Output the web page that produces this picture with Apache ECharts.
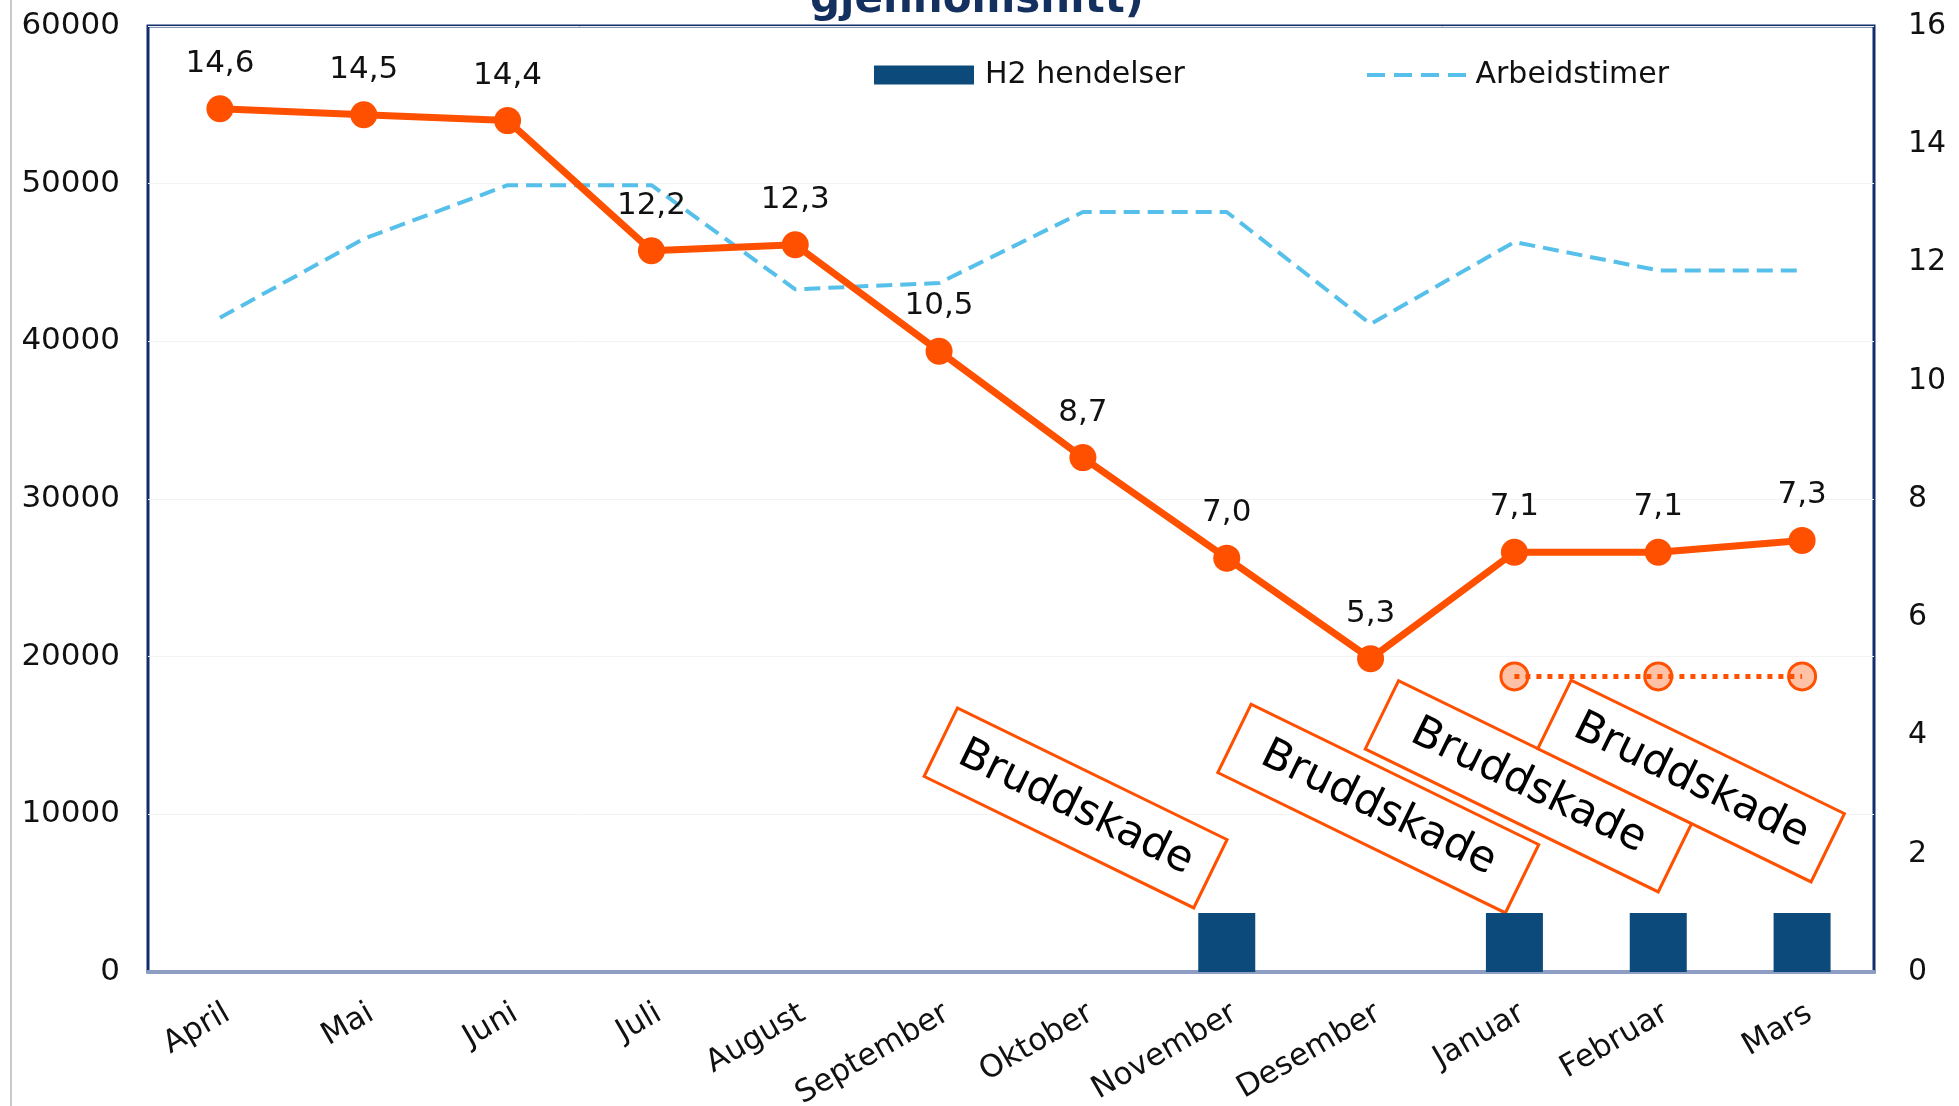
<!DOCTYPE html>
<html><head><meta charset="utf-8">
<script src="https://cdn.jsdelivr.net/npm/echarts@6/dist/echarts.min.js"></script>
<style>html,body{margin:0;padding:0;background:#fff}#c{width:1959px;height:1106px}</style>
</head><body><div id="c"></div>
<script>
// ---- data ----
const months = ['April','Mai','Juni','Juli','August','September','Oktober','November','Desember','Januar','Februar','Mars'];
const h2Hendelser = [null,null,null,null,null,null,null,1,null,1,1,1];
const arbeidstimer = [41500,46500,49900,49900,43300,43700,48200,48200,41100,46300,44500,44500];
const snitt = [14.6,14.5,14.4,12.2,12.3,10.5,8.7,7.0,5.3,7.1,7.1,7.3];
const maal = [null,null,null,null,null,null,null,null,null,5,5,5];
const leftAxisTicks = [0,10000,20000,30000,40000,50000,60000];
const rightAxisTicks = [0,2,4,6,8,10,12,14,16];
const annotationText = 'Bruddskade';
const annotationMonths = ['November','Januar','Februar','Mars'];
const titleText = 'gjennomsnitt)';

// ---- style / layout ----
const FONT = 'DejaVu Sans';
const ORANGE = '#ff5000';
const annoLayout = [
  {w:300, dx:-33, dy:-5},
  {w:320, dx:-9,  dy:0},
  {w:326, dx:0,   dy:-21},
  {w:304, dx:9,   dy:-31}
];
const ANNO_H = 76, ANNO_ANGLE = 26 * Math.PI / 180;
const DASH_ICON = 'path://M0,0h18v4H0z M27,0h18v4H27z M54,0h18v4H54z M81,0h18v4H81z';

const chart = echarts.init(document.getElementById('c'), null, {renderer:'canvas'});
const fmt = v => (typeof v === 'number' ? v.toFixed(1).replace('.', ',') : '');

chart.setOption({
  backgroundColor:'#fff',
  animation:false,
  textStyle:{fontFamily:FONT},
  grid:{left:148, right:85, top:26, bottom:134, containLabel:false, outerBoundsMode:'none',
        show:true, borderColor:'#112d6b', borderWidth:3, backgroundColor:'transparent'},
  legend:[
    {data:[{name:'H2 hendelser', icon:'rect'}], left:869, top:55, itemWidth:100, itemHeight:19, selectedMode:false,
     textStyle:{fontFamily:FONT, fontSize:30, color:'#111', padding:[0,0,0,6]}},
    {data:[{name:'Arbeidstimer', icon:DASH_ICON}], left:1362, top:55, itemWidth:100, itemHeight:4, selectedMode:false,
     textStyle:{fontFamily:FONT, fontSize:30, color:'#111', padding:[0,0,0,4]}}
  ],
  xAxis:{
    type:'category', data:months, boundaryGap:true,
    axisLine:{show:true, lineStyle:{color:'#8d9ec2', width:4}},
    axisTick:{show:false},
    axisLabel:{rotate:30, fontSize:31, color:'#111', fontFamily:FONT, margin:26, interval:0, align:'right', verticalAlign:'top'}
  },
  yAxis:[
    {type:'value', min:leftAxisTicks[0], max:leftAxisTicks[leftAxisTicks.length-1], interval:leftAxisTicks[1]-leftAxisTicks[0],
     axisLine:{show:false}, axisTick:{show:false},
     axisLabel:{fontSize:31, color:'#111', fontFamily:FONT, margin:28, formatter:v => String(v)},
     splitLine:{show:true, lineStyle:{color:'#f3f3f3', width:1}}},
    {type:'value', min:rightAxisTicks[0], max:rightAxisTicks[rightAxisTicks.length-1], interval:rightAxisTicks[1]-rightAxisTicks[0],
     axisLine:{show:false}, axisTick:{show:false},
     axisLabel:{fontSize:30, color:'#111', fontFamily:FONT, margin:34, formatter:v => String(v)},
     splitLine:{show:false}}
  ],
  series:[
    {name:'H2 hendelser', type:'bar', yAxisIndex:1, data:h2Hendelser, barWidth:57,
     itemStyle:{color:'#0b4a7b'}, z:1},
    {name:'Arbeidstimer', type:'line', yAxisIndex:0, data:arbeidstimer, symbol:'none', showSymbol:false,
     itemStyle:{color:'#56c0ea'}, lineStyle:{color:'#56c0ea', width:4, type:[16,8]}, z:2},
    {name:'Mål', type:'line', yAxisIndex:1, data:maal, symbol:'circle', symbolSize:27,
     itemStyle:{color:'rgba(255,80,0,0.35)', borderColor:ORANGE, borderWidth:3},
     lineStyle:{color:ORANGE, width:5, type:[5,6]}, z:3},
    {name:'Snitt', type:'line', yAxisIndex:1, data:snitt, symbol:'circle', symbolSize:27,
     itemStyle:{color:ORANGE}, lineStyle:{color:ORANGE, width:7}, z:4,
     label:{show:true, position:'top', distance:16, fontSize:31, color:'#111', fontFamily:FONT,
            formatter:p => fmt(p.value)}}
  ]
});

// annotations anchored to the bars through the chart's own coordinate system
const graphics = [
  {type:'line', shape:{x1:11, y1:0, x2:11, y2:1106}, style:{stroke:'#c9c9c9', lineWidth:2}, silent:true},
  {type:'text', x:977, y:22, style:{text:titleText, textAlign:'center', textVerticalAlign:'bottom',
    font:'bold 42px "' + FONT + '"', fill:'#13305e'}, silent:true}
];
annotationMonths.forEach((m, i) => {
  const idx = months.indexOf(m);
  const p = chart.convertToPixel({seriesIndex:0}, [idx, h2Hendelser[idx]]);
  const L = annoLayout[i];
  graphics.push({
    type:'group', x:p[0] + L.dx, y:p[1] + L.dy, rotation:-ANNO_ANGLE, z:100,
    children:[
      {type:'rect', shape:{x:-L.w, y:-ANNO_H, width:L.w, height:ANNO_H},
       style:{fill:'#fff', stroke:ORANGE, lineWidth:3}},
      {type:'text', x:-L.w/2, y:-ANNO_H/2,
       style:{text:annotationText, textAlign:'center', textVerticalAlign:'middle',
              font:'43px "' + FONT + '"', fill:'#000'}}
    ]
  });
});
chart.setOption({graphic:graphics});
</script>
</body></html>
